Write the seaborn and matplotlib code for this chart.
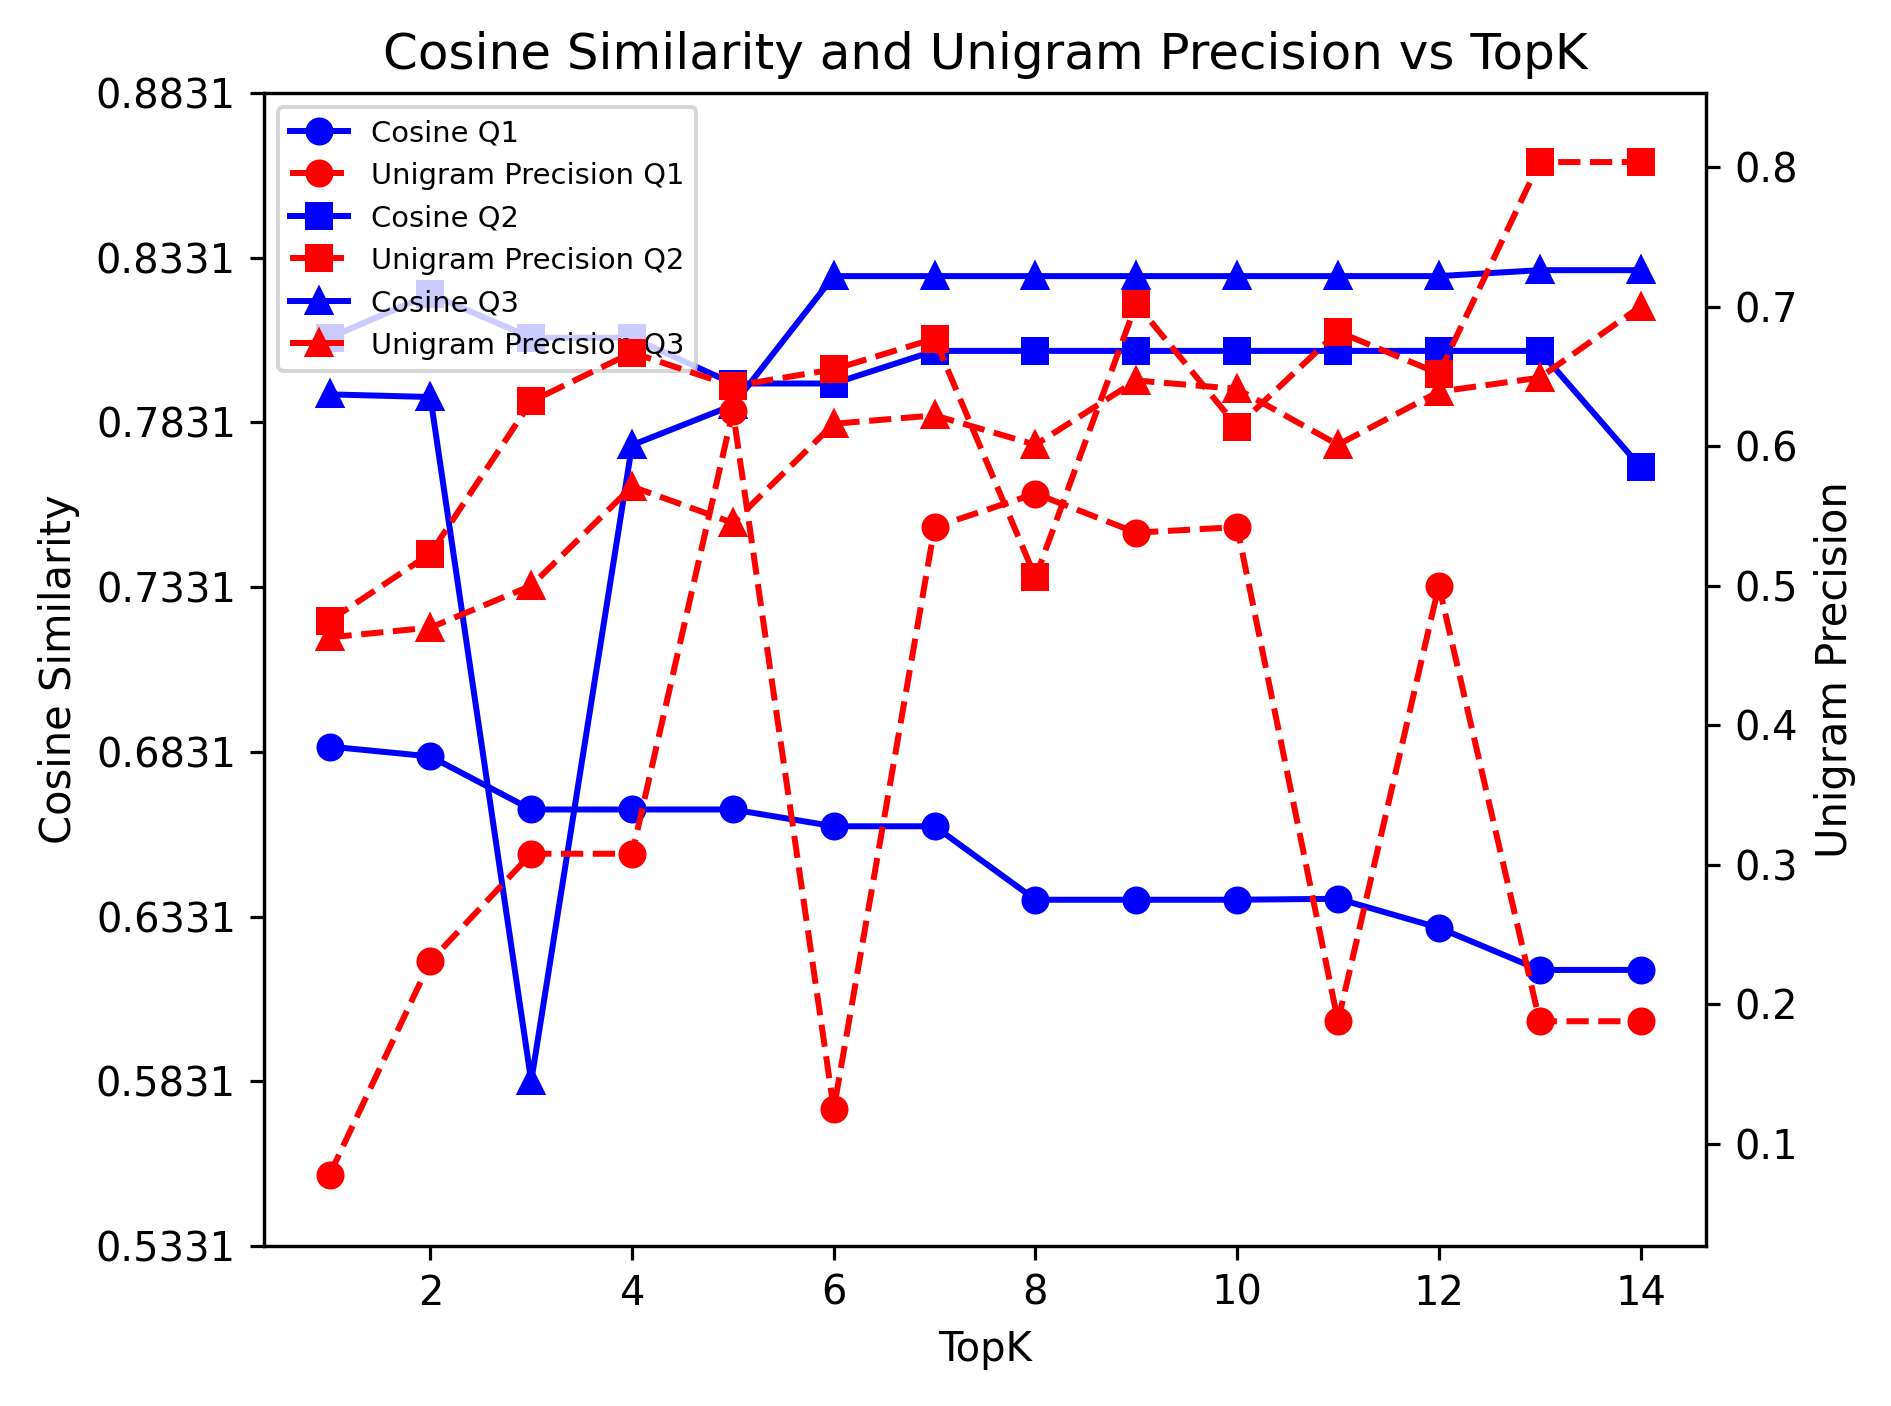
import numpy as np
import matplotlib
matplotlib.use("Agg")
import matplotlib.pyplot as plt
import seaborn as sns

topk = list(range(1, 15))

cos_q1 = [0.6847, 0.6817, 0.6656, 0.6656, 0.6656, 0.6605, 0.6605,
          0.6382, 0.6382, 0.6382, 0.6385, 0.6297, 0.6169, 0.6169]
uni_q1 = [0.078, 0.231, 0.308, 0.308, 0.625, 0.125, 0.542,
          0.566, 0.538, 0.542, 0.188, 0.500, 0.188, 0.188]

cos_q2 = [0.8088, 0.8220, 0.8088, 0.8088, 0.7949, 0.7949, 0.8048,
          0.8048, 0.8048, 0.8048, 0.8048, 0.8048, 0.8048, 0.7696]
uni_q2 = [0.475, 0.523, 0.632, 0.667, 0.643, 0.655, 0.677,
          0.506, 0.702, 0.614, 0.682, 0.652, 0.8035, 0.8035]

cos_q3 = [0.7916, 0.7908, 0.5831, 0.7762, 0.7883, 0.8275, 0.8275,
          0.8275, 0.8275, 0.8275, 0.8275, 0.8275, 0.8293, 0.8293]
uni_q3 = [0.463, 0.470, 0.500, 0.571, 0.545, 0.616, 0.622,
          0.601, 0.647, 0.641, 0.601, 0.639, 0.649, 0.700]

queries = ["Q1", "Q2", "Q3"]
markers = ["o", "s", "^"]
cosine = [cos_q1, cos_q2, cos_q3]
unigram = [uni_q1, uni_q2, uni_q3]

cos_ticks = [0.5331, 0.5831, 0.6331, 0.6831, 0.7331, 0.7831, 0.8331, 0.8831]

dpi = 288
fig, ax1 = plt.subplots(figsize=(1891 / dpi, 1406 / dpi), dpi=dpi)
fig.subplots_adjust(left=0.1396, right=0.9022, top=0.9339, bottom=0.1138)
ax2 = ax1.twinx()

handles = []
for q, m, c, u in zip(queries, markers, cosine, unigram):
    sns.lineplot(x=topk, y=c, ax=ax1, color="blue", marker=m, linestyle="-",
                 markeredgecolor="blue", markeredgewidth=1.0, label=f"Cosine {q}")
    sns.lineplot(x=topk, y=u, ax=ax2, color="red", marker=m, linestyle="--",
                 markeredgecolor="red", markeredgewidth=1.0, label=f"Unigram Precision {q}")
    handles.append(ax1.get_lines()[-1])
    handles.append(ax2.get_lines()[-1])

for ax in (ax1, ax2):
    if ax.get_legend() is not None:
        ax.get_legend().remove()

ax1.set_ylim(0.5331, 0.8831)
ax1.set_yticks(cos_ticks)
ax1.set_yticklabels([f"{t:.4f}" for t in cos_ticks])
ax2.set_ylim(0.027, 0.853)

ax1.set_xlabel("TopK")
ax1.set_ylabel("Cosine Similarity", fontsize=10.4)
ax2.set_ylabel("Unigram Precision", fontsize=10.4)
ax1.set_title("Cosine Similarity and Unigram Precision vs TopK", fontsize=12.5)

ax1.legend(handles, [h.get_label() for h in handles], loc="upper left", fontsize=7.25)

fig.savefig("out.png", dpi=dpi)
